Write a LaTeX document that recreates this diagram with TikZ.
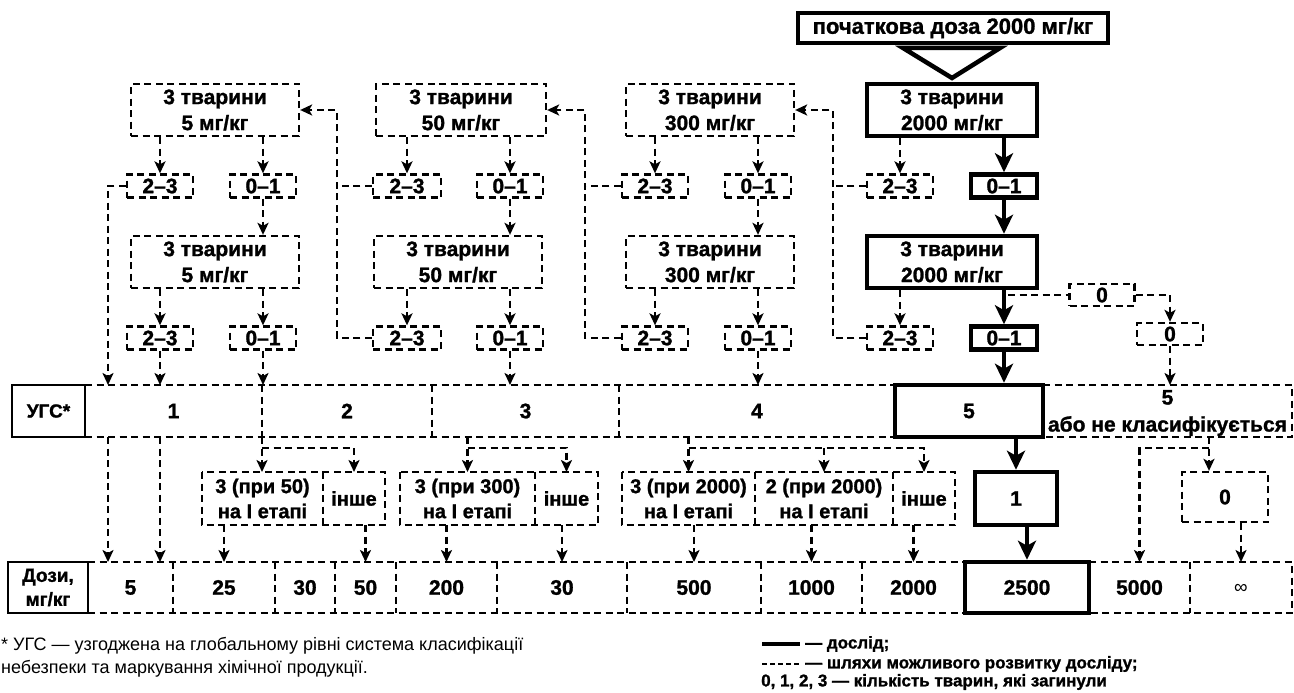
\documentclass[tikz,border=0pt]{standalone}
\usepackage{fontspec}
\setmainfont{Liberation Sans}[BoldFeatures={FakeBold=1.2}]
\usetikzlibrary{arrows.meta}
\tikzset{
  dsh/.style={line width=2.3pt, dash pattern=on 7pt off 4.5pt},
  thk/.style={line width=4.5pt},
  bx/.style={inner sep=0pt, align=center, font=\bfseries\fontsize{21}{26}\selectfont},
  dbox/.style={bx, draw, dsh},
  tbox/.style={bx, draw, thk},
  sbox/.style={bx, draw, line width=1.8pt},
  cell/.style={bx, outer sep=0pt},
  cellb/.style={bx, outer sep=0pt, font=\bfseries\fontsize{20}{25}\selectfont},
  darr/.style={dsh, -{Stealth[length=12pt,width=11pt,inset=3pt]}},
  tarr/.style={thk, -{Stealth[length=19pt,width=18pt,inset=5pt]}},
  sz/.style 2 args={minimum width=#1pt, minimum height=#2pt},
  lgd/.style={anchor=west, inner sep=1pt, font=\bfseries\fontsize{17}{20}\selectfont},
}
\begin{document}
\begin{tikzpicture}[x=1pt,y=-1pt]
\useasboundingbox (0,0) rectangle (1294,693);

% start
\node[tbox, sz={310}{30}, font=\bfseries\fontsize{22}{26}\selectfont] (st) at (953,28) {початкова доза 2000 мг/кг};
\draw[thk, fill=white] (903,48) -- (1000,48) -- (952,78) -- cycle;

% group 5
\node[dbox, sz={168}{52}] (a5) at (215,110) {3 тварини\\5 мг/кг};
\node[dbox, sz={66}{23}] (bl5) at (160,186) {2–3};
\node[dbox, sz={66}{23}] (br5) at (263,186) {0–1};
\node[dbox, sz={168}{52}] (c5) at (215,262) {3 тварини\\5 мг/кг};
\node[dbox, sz={66}{23}] (dl5) at (160,338) {2–3};
\node[dbox, sz={66}{23}] (dr5) at (263,338) {0–1};
% group 50
\node[dbox, sz={170}{52}] (a50) at (461,110) {3 тварини\\50 мг/кг};
\node[dbox, sz={68}{23}] (bl50) at (407,186) {2–3};
\node[dbox, sz={66}{23}] (br50) at (510,186) {0–1};
\node[dbox, sz={168}{52}] (c50) at (458,262) {3 тварини\\50 мг/кг};
\node[dbox, sz={68}{23}] (dl50) at (407,338) {2–3};
\node[dbox, sz={66}{23}] (dr50) at (510,338) {0–1};
% group 300
\node[dbox, sz={168}{52}] (a300) at (710,110) {3 тварини\\300 мг/кг};
\node[dbox, sz={66}{23}] (bl300) at (655,186) {2–3};
\node[dbox, sz={66}{23}] (br300) at (758,186) {0–1};
\node[dbox, sz={168}{52}] (c300) at (710,262) {3 тварини\\300 мг/кг};
\node[dbox, sz={66}{23}] (dl300) at (655,338) {2–3};
\node[dbox, sz={66}{23}] (dr300) at (758,338) {0–1};
% group 2000
\node[tbox, sz={170}{52}] (a2k) at (952,110) {3 тварини\\2000 мг/кг};
\node[dbox, sz={66}{23}] (bl2k) at (900,186) {2–3};
\node[tbox, sz={66}{23}] (br2k) at (1004,186) {0–1};
\node[tbox, sz={170}{52}] (c2k) at (952,262) {3 тварини\\2000 мг/кг};
\node[dbox, sz={66}{23}] (dl2k) at (900,338) {2–3};
\node[tbox, sz={66}{23}] (dr2k) at (1004,338) {0–1};
\node[dbox, sz={65}{22}] (z1) at (1102,295) {0};
\node[dbox, sz={66}{22}] (z2) at (1170,334) {0};

% arrows inside groups
\foreach \g in {5,50,300} {
  \draw[darr] (a\g.south -| bl\g.north) -- (bl\g.north);
  \draw[darr] (a\g.south -| br\g.north) -- (br\g.north);
  \draw[darr] (br\g.south) -- (br\g.south |- c\g.north);
  \draw[darr] (c\g.south -| dl\g.north) -- (dl\g.north);
  \draw[darr] (c\g.south -| dr\g.north) -- (dr\g.north);
}
\draw[darr] (a2k.south -| bl2k.north) -- (bl2k.north);
\draw[tarr] (a2k.south -| br2k.north) -- (br2k.north);
\draw[tarr] (br2k.south) -- (br2k.south |- c2k.north);
\draw[darr] (c2k.south -| dl2k.north) -- (dl2k.north);
\draw[tarr] (c2k.south -| dr2k.north) -- (dr2k.north);
\coordinate (j5) at (1008,295);
\draw[dsh] (j5) -- (z1.west);
\draw[darr] (z1.east) -| (z2.north);

% feedback loops
\coordinate (k50) at (337,110);
\coordinate (k300) at (585,110);
\coordinate (k2k) at (833,110);
\draw[darr] (dl50.west) -| (k50) -- (a5.east);
\draw[dsh] (bl50.west) -- (bl50.west -| k50);
\draw[darr] (dl300.west) -| (k300) -- (a50.east);
\draw[dsh] (bl300.west) -- (bl300.west -| k300);
\draw[darr] (dl2k.west) -| (k2k) -- (a300.east);
\draw[dsh] (bl2k.west) -- (bl2k.west -| k2k);

% UGS row
\node[sbox, font=\bfseries\fontsize{19}{24}\selectfont, sz={73}{52}] (ugs) at (48.5,411) {УГС*};
\node[cell, sz={177}{52}] (u1) at (173.5,411) {1};
\node[cell, sz={170}{52}] (u2) at (347,411) {2};
\node[cell, sz={187}{52}] (u3) at (525.5,411) {3};
\node[cell, sz={276}{52}] (u4) at (757,411) {4};
\node[cell, font=\bfseries\fontsize{21}{27}\selectfont, sz={249}{52}] (u5b) at (1167.5,413) {5\\або не класифікується};
\draw[dsh] (u1.north west) -- (u4.north east);
\draw[dsh] (u1.south west) -- (u4.south east);
\draw[dsh] (u1.north east) -- (u1.south east);
\draw[dsh] (u2.north east) -- (u2.south east);
\draw[dsh] (u3.north east) -- (u3.south east);
\draw[dsh] (u4.north east -| u5b.west) -- (u4.north east -| u5b.east) -- (u4.south east -| u5b.east) -- (u4.south east -| u5b.west);
\node[tbox, sz={148}{52}] (u5) at (969,411) {5};

% arrows into UGS row
\coordinate (k5) at (108,186);
\draw[darr] (bl5.west) -- (k5) -- (k5 |- u1.north);
\draw[darr] (dl5.south) -- (dl5.south |- u1.north);
\draw[darr] (dr5.south) -- (dr5.south |- u1.north);
\draw[darr] (dr50.south) -- (dr50.south |- u1.north);
\draw[darr] (dr300.south) -- (dr300.south |- u1.north);
\draw[tarr] (dr2k.south) -- (dr2k.south |- u5.north);
\draw[darr] (z2.south) -- (z2.south |- u1.north);

% second level
\node[cellb, sz={121}{53}] (p50) at (262.5,498.5) {3 (при 50)\\на I етапі};
\node[cellb, sz={62}{53}] (o50) at (354,498.5) {інше};
\node[cellb, sz={135}{53}] (p300) at (467.5,498.5) {3 (при 300)\\на I етапі};
\node[cellb, sz={63}{53}] (o300) at (566.5,498.5) {інше};
\node[cellb, sz={133}{53}] (p2k3) at (688.5,498.5) {3 (при 2000)\\на I етапі};
\node[cellb, sz={138}{53}] (p2k2) at (824,498.5) {2 (при 2000)\\на I етапі};
\node[cellb, sz={62}{53}] (o2k) at (924,498.5) {інше};
\draw[dsh] (p50.north west) rectangle (o50.south east);
\draw[dsh] (p50.north east) -- (p50.south east);
\draw[dsh] (p300.north west) rectangle (o300.south east);
\draw[dsh] (p300.north east) -- (p300.south east);
\draw[dsh] (p2k3.north west) rectangle (o2k.south east);
\draw[dsh] (p2k3.north east) -- (p2k3.south east);
\draw[dsh] (p2k2.north east) -- (p2k2.south east);
\node[tbox, sz={82}{53}] (one) at (1016,498.5) {1};
\node[dbox, sz={86}{50}] (zb) at (1225,497) {0};

% branches below UGS row
\coordinate (j2) at (262,448);
\draw[darr] (u1.south east) -- (u1.south east |- p50.north);
\draw[darr] (j2) -| (o50.north);
\coordinate (j3) at (467.5,448);
\draw[darr] (j3 |- u3.south) -- (p300.north);
\draw[darr] (j3) -| (o300.north);
\coordinate (j4) at (688.5,448);
\draw[darr] (j4 |- u4.south) -- (p2k3.north);
\draw[darr] (j4) -| (o2k.north);
\draw[darr] (p2k2.north |- j4) -- (p2k2.north);
\draw[tarr] (u5.south -| one.north) -- (one.north);
\coordinate (j6) at (1209,448);
\draw[darr] (j6 |- u1.south) -- (j6 |- zb.north);

% doses row
\node[sbox, font=\bfseries\fontsize{19}{24}\selectfont, sz={80}{51}] (dz) at (48,587.5) {Дози,\\мг/кг};
\node[cell, sz={85}{51}] (r5) at (130.5,587.5) {5};
\node[cell, sz={102}{51}] (r25) at (224,587.5) {25};
\node[cell, sz={60}{51}] (r30a) at (305,587.5) {30};
\node[cell, sz={61}{51}] (r50) at (365.5,587.5) {50};
\node[cell, sz={101}{51}] (r200) at (446.5,587.5) {200};
\node[cell, sz={130}{51}] (r30b) at (562,587.5) {30};
\node[cell, sz={134}{51}] (r500) at (694,587.5) {500};
\node[cell, sz={101}{51}] (r1000) at (811.5,587.5) {1000};
\node[cell, sz={103}{51}] (r2000) at (913.5,587.5) {2000};
\node[cell, sz={101}{51}] (r5000) at (1139.5,587.5) {5000};
\node[cell, sz={102}{51}, font=\fontsize{19}{24}\selectfont] (rinf) at (1241,589) {∞};
\draw[dsh] (r5.north west) -- (r2000.north east);
\draw[dsh] (r5.south west) -- (r2000.south east);
\foreach \c in {r5,r25,r30a,r50,r200,r30b,r500,r1000}
  \draw[dsh] (\c.north east) -- (\c.south east);
\draw[dsh] (r5000.north west) -- (r5000.north west -| rinf.east) -- (r5000.south west -| rinf.east) -- (r5000.south west);
\draw[dsh] (r5000.north east) -- (r5000.south east);
\node[tbox, sz={124}{51}] (r2500) at (1027,587.5) {2500};

% arrows into doses row
\draw[darr] (k5 |- u1.south) -- (k5 |- r5.north);
\draw[darr] (dl5.south |- u1.south) -- (dl5.south |- r5.north);
\draw[darr] (p50.south -| r25.north) -- (r25.north);
\draw[darr] (o50.south -| r50.north) -- (r50.north);
\draw[darr] (p300.south -| r200.north) -- (r200.north);
\draw[darr] (o300.south -| r30b.north) -- (r30b.north);
\draw[darr] (p2k3.south -| r500.north) -- (r500.north);
\draw[darr] (p2k2.south -| r1000.north) -- (r1000.north);
\draw[darr] (o2k.south -| r2000.north) -- (r2000.north);
\draw[tarr] (one.south -| r2500.north) -- (r2500.north);
\draw[darr] (j6) -| (r5000.north);
\draw[darr] (zb.south -| rinf.north) -- (rinf.north |- r5.north);

% footnote and legend
\node[anchor=west, inner sep=1pt, align=left, font=\fontsize{18}{23}\selectfont] (fn) at (0,657)
  {* УГС — узгоджена на глобальному рівні система класифікації\\небезпеки та маркування хімічної продукції.};
\draw[thk] (762,644) -- (800,644);
\draw[dsh, dash pattern=on 5pt off 3pt] (762,664) -- (800,664);
\node[lgd] (lg1) at (804,644) {— дослід;};
\node[lgd] (lg2) at (804,664) {— шляхи можливого розвитку досліду;};
\node[lgd] (lg3) at (760,682) {0, 1, 2, 3 — кількість тварин, які загинули};
\end{tikzpicture}
\end{document}
